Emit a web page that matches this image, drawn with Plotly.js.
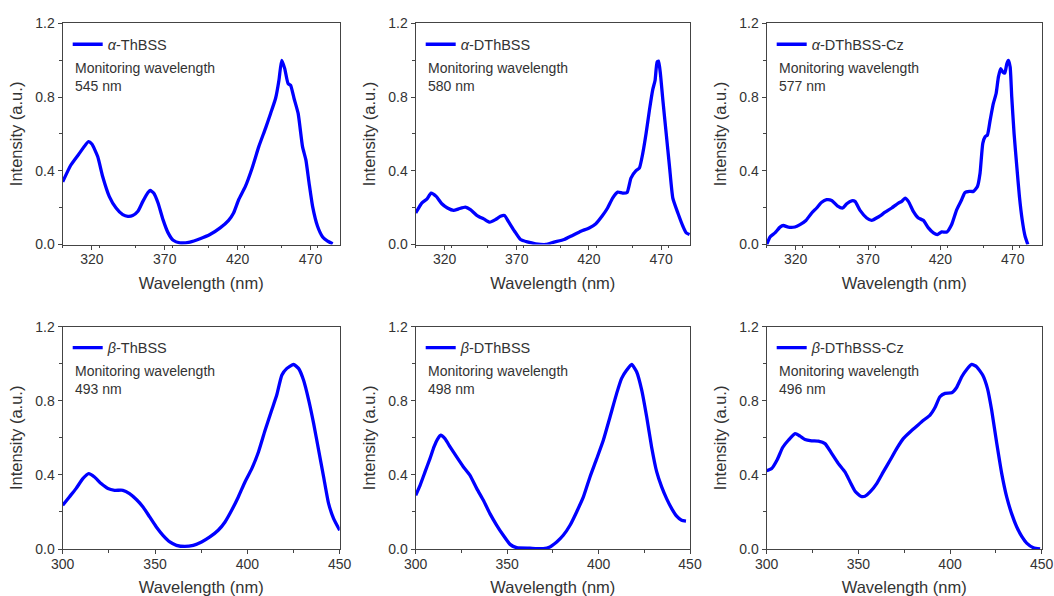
<!DOCTYPE html>
<html><head><meta charset="utf-8">
<script src="https://cdn.plot.ly/plotly-3.0.1.min.js"></script>
<style>html,body{margin:0;padding:0;background:#fff;}</style>
</head><body>
<div id="chart" style="width:1054px;height:596px;"></div>
<script>
// ---------------- data ----------------
const sampleNames = ['<i>α</i>-ThBSS', '<i>α</i>-DThBSS', '<i>α</i>-DThBSS-Cz',
                     '<i>β</i>-ThBSS', '<i>β</i>-DThBSS', '<i>β</i>-DThBSS-Cz'];
const monitorWavelengths = ['545 nm', '580 nm', '577 nm', '493 nm', '498 nm', '496 nm'];
const xTitle = 'Wavelength (nm)';
const yTitle = 'Intensity (a.u.)';

const wlAThBSS = [300,305.5,311,317.7,320,324,327.4,332,336.6,341.2,344.7,348,351.6,355,358.5,360,362.4,365.4,368.8,372.3,375.8,380.4,387.3,394.2,401,408,413.8,417.2,420.7,425.3,429.9,434.5,439.1,442.6,446,448.3,450.2,452.3,454.6,456.3,458.7,461.5,464.5,466.8,469,471.4,474.8,478.3,481.7,485.2];
const intAThBSS = [0.34,0.43,0.49,0.558,0.545,0.477,0.369,0.26,0.198,0.162,0.153,0.157,0.18,0.234,0.282,0.293,0.279,0.225,0.135,0.063,0.023,0.009,0.013,0.031,0.054,0.09,0.131,0.171,0.243,0.315,0.414,0.531,0.63,0.711,0.792,0.89,0.999,0.954,0.873,0.864,0.792,0.711,0.531,0.459,0.333,0.207,0.099,0.041,0.018,0.004];

const wlADThBSS = [300,304.2,307.7,310.7,314.2,318.1,322,326.3,329.7,334.4,337.9,342.5,347.1,351.3,355.2,358.7,361.5,364.5,368.5,372.6,377.3,383.1,390,395.8,402.8,408.6,414.4,420.2,424.8,429.4,432.9,436.4,439.9,443.3,446.4,449.1,452.6,454.9,457.3,459.6,461.9,464.2,465.8,467.2,468.2,469.5,471.2,473.5,475.8,478.1,481.6,485.1,487.4,489.7];
const intADThBSS = [0.171,0.225,0.246,0.279,0.261,0.221,0.198,0.185,0.193,0.203,0.189,0.157,0.139,0.121,0.135,0.153,0.157,0.121,0.072,0.027,0.014,0.004,0.0,0.013,0.027,0.049,0.072,0.09,0.113,0.157,0.198,0.252,0.284,0.279,0.282,0.36,0.401,0.414,0.495,0.603,0.729,0.84,0.89,0.99,0.995,0.927,0.783,0.603,0.423,0.252,0.171,0.099,0.063,0.054];

const wlADThBSSCz = [300,302.3,305.7,309.2,311.5,314.9,319.5,323,327.1,331.1,334.5,338,341.4,344.9,348.8,352.5,355.3,358.7,361,364.5,369.1,372.5,377.1,381.8,386.4,391,393.3,395.6,397.9,401.3,404.8,408.2,411.7,415.2,417.9,420.9,424.4,427.8,431.3,434.7,437,440,442.8,445.6,447.4,449.3,450.9,452.5,454.4,456.6,458.5,460.1,461.7,463.1,464.5,465.9,467,468.2,469.3,470.9,472.8,474.6,476.5,478.5,480.4];
const intADThBSSCz = [0.0,0.041,0.063,0.094,0.103,0.094,0.095,0.108,0.13,0.171,0.198,0.229,0.243,0.239,0.21,0.198,0.221,0.237,0.234,0.185,0.144,0.131,0.149,0.175,0.198,0.225,0.234,0.252,0.234,0.18,0.144,0.131,0.09,0.063,0.054,0.068,0.067,0.108,0.189,0.243,0.282,0.288,0.288,0.315,0.387,0.549,0.585,0.594,0.675,0.765,0.819,0.909,0.954,0.936,0.93,0.981,0.999,0.963,0.801,0.603,0.423,0.261,0.135,0.045,0.0];

const wlBThBSS = [300,303.6,307.2,310.9,314.1,317.2,320.8,324.5,328.1,332.6,336.2,339.9,343.5,347.1,350.7,354.3,358,361.6,366.1,370.7,375.2,379.7,384.2,387.9,391.5,395.1,398.7,402.4,406,409.6,413.2,415.9,418.7,421.4,425,427.7,430.4,433.2,435.9,438.6,441.3,444,446.7,450];
const intBThBSS = [0.236,0.281,0.326,0.38,0.407,0.389,0.353,0.326,0.317,0.317,0.299,0.267,0.227,0.173,0.119,0.074,0.038,0.02,0.014,0.02,0.038,0.065,0.101,0.146,0.209,0.281,0.362,0.434,0.524,0.641,0.75,0.831,0.939,0.975,0.996,0.975,0.912,0.804,0.677,0.533,0.389,0.245,0.164,0.101];

const wlBDThBSS = [300,302.4,305.1,307.8,310,311.8,313.7,316,318.8,322.4,326.1,329.7,333.4,337,340.6,344.3,347.9,351.6,355.2,362.5,369.8,373.4,377.1,380.7,384.4,388,391.7,395.3,399,402.6,406.3,409.9,412.6,415.4,418.1,420.8,423.6,426.3,429,431.8,434.5,437.2,440,442.7,445.4,447.8];
const intBDThBSS = [0.29,0.344,0.416,0.488,0.551,0.591,0.614,0.596,0.551,0.497,0.443,0.398,0.326,0.263,0.191,0.128,0.074,0.025,0.007,0.004,0.002,0.011,0.038,0.074,0.128,0.2,0.281,0.389,0.488,0.587,0.714,0.84,0.921,0.966,0.996,0.957,0.858,0.714,0.551,0.416,0.335,0.272,0.218,0.177,0.155,0.151];

const wlBDThBSSCz = [300,302.7,305.8,308.7,311.8,315.5,318.2,320.9,324.5,328.2,331.8,335.5,339.1,342.7,345.5,348.2,351.3,353.6,356.4,360,363.6,367.3,370.9,374.5,378.2,381.8,385.5,389.1,391.8,394.5,397.3,400.9,403.6,406.4,409.1,411.8,414.5,417.8,420.4,422.7,425.5,428.2,430.9,433.6,436.4,439.1,441.8,445.5,449.1];
const intBDThBSSCz = [0.422,0.434,0.483,0.548,0.587,0.623,0.609,0.591,0.584,0.582,0.569,0.515,0.461,0.416,0.362,0.312,0.285,0.285,0.308,0.353,0.416,0.479,0.542,0.596,0.632,0.663,0.695,0.723,0.764,0.822,0.84,0.843,0.872,0.93,0.969,0.996,0.984,0.939,0.867,0.75,0.569,0.407,0.281,0.191,0.119,0.068,0.032,0.007,0.0];

const xSeries = [wlAThBSS, wlADThBSS, wlADThBSSCz, wlBThBSS, wlBDThBSS, wlBDThBSSCz];
const ySeries = [intAThBSS, intADThBSS, intADThBSSCz, intBThBSS, intBDThBSS, intBDThBSSCz];
const xRanges = [[300,490],[300,490],[300,490],[300,450],[300,450],[300,450]];
const xTick0 = [320,320,320,300,300,300];

// ---------------- layout ----------------
const W = 1054, H = 596;
const colPx = [[62.7,339.7],[415.7,690.0],[766.7,1041.7]];
const rowPx = [[23.3,244.5],[326.7,549.0]];
const FONT = 'Liberation Sans, Arial, Helvetica, sans-serif';
const TXT = '#333333';
const AXC = '#444444';

const traces = [];
const layout = {
  width: W, height: H,
  margin: {l:0, r:0, t:0, b:0, pad:0},
  paper_bgcolor: '#ffffff', plot_bgcolor: '#ffffff',
  font: {family: FONT, color: TXT, size: 14},
  annotations: [],
  showlegend: true
};

for (let i = 0; i < 6; i++) {
  const r = Math.floor(i / 3), c = i % 3;
  const n = i + 1;
  const xa = 'xaxis' + (n === 1 ? '' : n), ya = 'yaxis' + (n === 1 ? '' : n);
  const xr = 'x' + (n === 1 ? '' : n), yr = 'y' + (n === 1 ? '' : n);
  const lg = 'legend' + (n === 1 ? '' : n);
  const [x0, x1] = colPx[c];
  const [yt, yb] = rowPx[r];

  traces.push({
    type: 'scatter', mode: 'lines',
    x: xSeries[i], y: ySeries[i],
    name: sampleNames[i],
    xaxis: xr, yaxis: yr, legend: lg,
    line: {color: '#0000ff', width: 3.3, shape: 'spline', smoothing: 0.5},
    hoverinfo: 'x+y'
  });

  layout[xa] = {
    domain: [x0 / W, x1 / W], anchor: yr,
    range: xRanges[i], tick0: xTick0[i], dtick: 50,
    ticks: 'outside', ticklen: 4, tickwidth: 1.2, tickcolor: AXC,
    minor: {dtick: 25, ticks: 'outside', ticklen: 2.5, tickwidth: 1.2, tickcolor: AXC},
    showline: true, linecolor: AXC, linewidth: 1.3, mirror: true,
    showgrid: false, zeroline: false,
    tickfont: {family: FONT, size: 14, color: TXT},
    ticklabelstandoff: -2,
    title: {text: xTitle, font: {family: FONT, size: 16.5, color: TXT}, standoff: 10},
    automargin: false, fixedrange: true
  };
  layout[ya] = {
    domain: [1 - yb / H, 1 - yt / H], anchor: xr,
    range: [0, 1.2], tick0: 0, dtick: 0.4, tickformat: '.1f',
    ticks: 'outside', ticklen: 4, tickwidth: 1.2, tickcolor: AXC,
    minor: {dtick: 0.2, ticks: 'outside', ticklen: 2.5, tickwidth: 1.2, tickcolor: AXC},
    showline: true, linecolor: AXC, linewidth: 1.3, mirror: true,
    showgrid: false, zeroline: false,
    tickfont: {family: FONT, size: 14, color: TXT},
    title: {text: yTitle, font: {family: FONT, size: 16.5, color: TXT}, standoff: 8},
    automargin: false, fixedrange: true
  };
  layout[lg] = {
    x: (x0 + 5) / W, y: 1 - (yt + 5) / H, xanchor: 'left', yanchor: 'top',
    bgcolor: 'rgba(0,0,0,0)', borderwidth: 0,
    font: {family: FONT, size: 14.5, color: TXT},
    itemclick: false, itemdoubleclick: false
  };
  layout.annotations.push({
    xref: 'paper', yref: 'paper',
    x: (x0 + 10.5) / W, y: 1 - (yt + 53.5) / H,
    xanchor: 'left', yanchor: 'middle', align: 'left', showarrow: false,
    text: 'Monitoring wavelength<br>' + monitorWavelengths[i],
    font: {family: FONT, size: 14, color: TXT}
  });
}

Plotly.newPlot('chart', traces, layout, {displayModeBar: false, staticPlot: false});
</script>
</body></html>
